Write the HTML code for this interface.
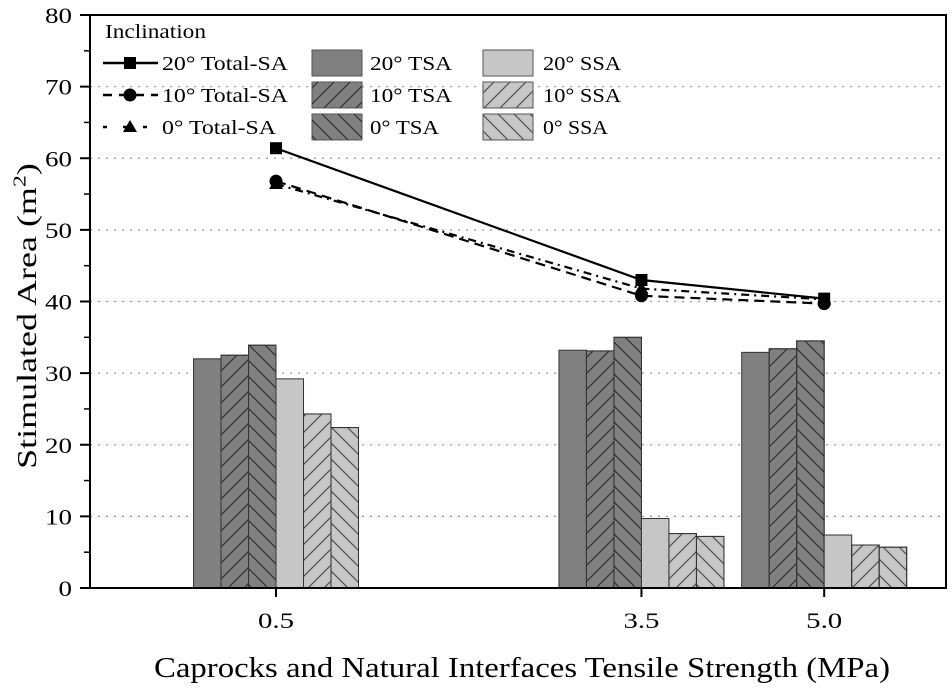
<!DOCTYPE html>
<html><head><meta charset="utf-8"><style>
body{margin:0;background:#fff;}
svg{display:block;font-family:"Liberation Serif",serif;}
</style></head><body>
<svg id="chart" width="952" height="691">
<defs>
<pattern id="hf" patternUnits="userSpaceOnUse" width="16" height="16"><path d="M0,16 L16,0 M-2,2 L2,-2 M14,18 L18,14" stroke="#333" stroke-width="1.3"/></pattern>
<pattern id="hb" patternUnits="userSpaceOnUse" width="16" height="16"><path d="M0,0 L16,16 M-2,14 L2,18 M14,-2 L18,2" stroke="#333" stroke-width="1.3"/></pattern>
<pattern id="hfl" patternUnits="userSpaceOnUse" width="16" height="16"><path d="M0,16 L16,0 M-2,2 L2,-2 M14,18 L18,14" stroke="#555" stroke-width="1.3"/></pattern>
<pattern id="hbl" patternUnits="userSpaceOnUse" width="16" height="16"><path d="M0,0 L16,16 M-2,14 L2,18 M14,-2 L18,2" stroke="#555" stroke-width="1.3"/></pattern>
</defs>
<g id="grid"></g><g id="bars"></g><g id="lines"></g><g id="axes"></g><g id="legend"></g>
</svg>
<script>
const categories=[0.5,3.5,5.0];
const tsa20=[32.0,33.2,32.9];
const tsa10=[32.5,33.1,33.4];
const tsa0=[33.9,35.0,34.5];
const ssa20=[29.2,9.7,7.4];
const ssa10=[24.3,7.6,6.0];
const ssa0=[22.4,7.2,5.7];
const total20=[61.4,43.0,40.4];
const total10=[56.8,40.8,39.7];
const total0=[56.4,41.8,40.3];
const yTicks=[0,10,20,30,40,50,60,70,80];
const xTickLabels=["0.5","3.5","5.0"];

const NS="http://www.w3.org/2000/svg";
const L=90,R=946,T=15,B=588;
const xMin=-1.027,xMax=6.0,yMax=80;
const xs=v=>L+(v-xMin)/(xMax-xMin)*(R-L);
const ys=v=>B-v/yMax*(B-T);
const BW=27.5;
function mk(tag,attrs,parent){const e=document.createElementNS(NS,tag);for(const k in attrs)e.setAttribute(k,attrs[k]);parent.appendChild(e);return e;}
const g=id=>document.getElementById(id);

yTicks.forEach(t=>{if(t>0&&t<80){const l=mk('line',{x1:L,x2:R,y1:ys(t),y2:ys(t),stroke:'#999','stroke-dasharray':'2,6','stroke-width':1.2},g('grid'));

}});

const series=[[tsa20,'#808080'],[tsa10,'#808080','url(#hf)'],[tsa0,'#808080','url(#hb)'],[ssa20,'#c6c6c6'],[ssa10,'#c6c6c6','url(#hfl)'],[ssa0,'#c6c6c6','url(#hbl)']];
const names=['bar-20-tsa','bar-10-tsa','bar-0-tsa','bar-20-ssa','bar-10-ssa','bar-0-ssa'];
categories.forEach((c,i)=>{
  const cx=xs(c);
  series.forEach((s,j)=>{
    const x=cx+(j-3)*BW,y=ys(s[0][i]),h=B-y;
    const r=mk('rect',{x:x,y:y,width:BW,height:h,fill:s[1],stroke:'#333','stroke-width':1},g('bars'));
    
    
    if(s[2]){mk('rect',{x:x,y:y,width:BW,height:h,fill:s[2],stroke:'#333','stroke-width':1},g('bars'));}
  });
});

const lineSeries=[[total20,'none','square','line-20-total-sa'],[total10,'10,6','circle','line-10-total-sa'],[total0,'8,5,2,5','triangle','line-0-total-sa']];
function marker(type,x,y,parent){
  if(type==='square')return mk('rect',{x:x-6,y:y-6,width:12,height:12,fill:'#000'},parent);
  if(type==='circle')return mk('circle',{cx:x,cy:y,r:6.5,fill:'#000'},parent);
  return mk('polygon',{points:`${x},${y-7} ${x-7},${y+5} ${x+7},${y+5}`,fill:'#000'},parent);
}
lineSeries.forEach(ls=>{
  const pts=categories.map((c,i)=>xs(c)+','+ys(ls[0][i])).join(' ');
  const p=mk('polyline',{points:pts,fill:'none',stroke:'#000','stroke-width':2.2,'stroke-dasharray':ls[1]},g('lines'));
  
  
  categories.forEach((c,i)=>{const m=marker(ls[2],xs(c),ys(ls[0][i]),g('lines'));
    
    });
});

const ax=g('axes');
mk('rect',{x:L,y:T,width:R-L,height:B-T,fill:'none',stroke:'#000','stroke-width':2},ax);
yTicks.forEach(t=>{
  mk('line',{x1:L-10,x2:L,y1:ys(t),y2:ys(t),stroke:'#000','stroke-width':2},ax);
  if(t<80)mk('line',{x1:L-6,x2:L,y1:ys(t+5),y2:ys(t+5),stroke:'#000','stroke-width':1.5},ax);
  const s=String(t);
  const tx=mk('text',{x:L-18,y:ys(t)+8,'text-anchor':'end','font-size':22,textLength:s.length*13.5,lengthAdjust:'spacingAndGlyphs'},ax);tx.textContent=s;
  
  
});
categories.forEach((c,i)=>{
  mk('line',{x1:xs(c),x2:xs(c),y1:B,y2:B+9,stroke:'#000','stroke-width':2},ax);
  const tx=mk('text',{x:xs(c),y:B+40,'text-anchor':'middle','font-size':22,textLength:36,lengthAdjust:'spacingAndGlyphs'},ax);tx.textContent=xTickLabels[i];
  
  
});
const xt=mk('text',{x:522,y:677,'text-anchor':'middle','font-size':28,textLength:736,lengthAdjust:'spacingAndGlyphs'},ax);
xt.textContent='Caprocks and Natural Interfaces Tensile Strength (MPa)';


const yt=mk('text',{transform:`translate(36,316) rotate(-90) scale(1.5,1.15)`,'text-anchor':'middle','font-size':24},ax);
yt.innerHTML='Stimulated Area (m<tspan dy="-9" font-size="16">2</tspan><tspan dy="9">)</tspan>';



const lg=g('legend');
const it=mk('text',{x:105,y:38,'font-size':20,textLength:101,lengthAdjust:'spacingAndGlyphs'},lg);it.textContent='Inclination';


const rows=[63,95,127];
const lineLbl=['20° Total-SA','10° Total-SA','0° Total-SA'];
const lineLblW=[126,126,114];
lineSeries.forEach((ls,i)=>{
  mk('line',{x1:103,x2:158,y1:rows[i],y2:rows[i],stroke:'#000','stroke-width':2.4,'stroke-dasharray':i===1?'9,7':(i===2?'4,16':'none')},lg);
  marker(ls[2],130,rows[i],lg);
  const t=mk('text',{x:162,y:rows[i]+7,'font-size':20,textLength:lineLblW[i],lengthAdjust:'spacingAndGlyphs'},lg);t.textContent=lineLbl[i];
  
  
});
const barLbl=['20° TSA','10° TSA','0° TSA','20° SSA','10° SSA','0° SSA'];
const barLblW=[82,82,69,78,78,65];
series.forEach((s,j)=>{
  const col=j<3?0:1,row=j%3;
  const x=col?483:312,y=rows[row]-13;
  mk('rect',{x:x,y:y,width:50,height:26,fill:s[1],stroke:'#555','stroke-width':1},lg);
  if(s[2])mk('rect',{x:x,y:y,width:50,height:26,fill:s[2]},lg);
  const t=mk('text',{x:col?543:370,y:rows[row]+7,'font-size':20,textLength:barLblW[j],lengthAdjust:'spacingAndGlyphs'},lg);t.textContent=barLbl[j];
  
  
});
</script>
</body></html>
